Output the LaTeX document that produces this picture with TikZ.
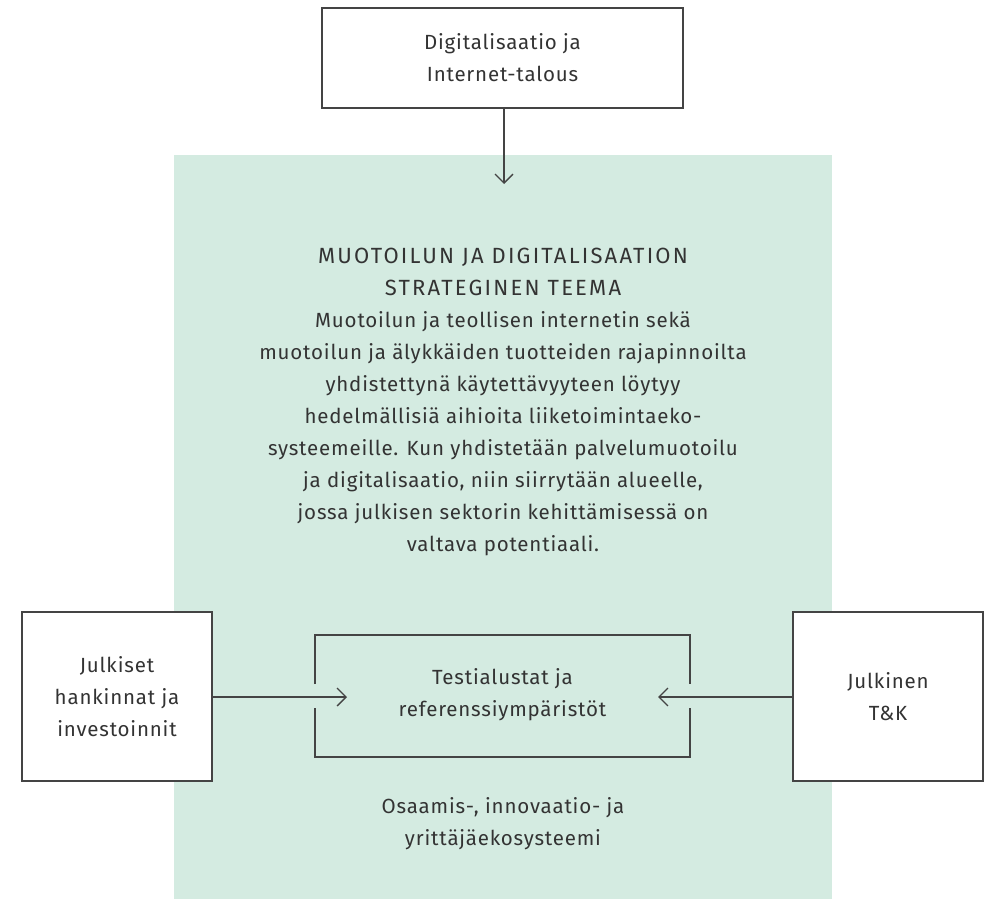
\documentclass[tikz,border=0pt]{standalone}
\usepackage{fontspec}
\setmainfont{Fira Sans}[LetterSpace=4]
\newfontfamily\headfont{Fira Sans}[LetterSpace=10]
\newcommand\hdsty{\headfont\fontsize{22}{32}\selectfont}
\newcommand\bdsty{\rmfamily\fontsize{20.5}{32}\selectfont}
\usetikzlibrary{arrows.meta}
\definecolor{mint}{HTML}{D4EBE1}
\definecolor{ink}{HTML}{333333}
\definecolor{linec}{HTML}{444444}
\begin{document}
\begin{tikzpicture}[x=1pt,y=-1pt,
  every node/.style={text=ink, font=\bdsty, align=center, inner sep=0pt},
  wbox/.style={draw=linec, line width=1.5pt, fill=white},
  conn/.style={draw=linec, line width=1.5pt, -{Straight Barb[length=9pt,width=18pt,line width=1.3pt]}},
  brk/.style={draw=linec, line width=1.5pt}]
\useasboundingbox (0,0) rectangle (986,899);
\fill[mint] (174,155) rectangle (832,899);

\node[wbox, minimum width=361pt, minimum height=100pt] (top) at (502.5,58) {Digitalisaatio ja\\Internet-talous};
\node[wbox, minimum width=190pt, minimum height=169pt] (left) at (117,696.5) {Julkiset\\hankinnat ja\\investoinnit};
\node[wbox, minimum width=190pt, minimum height=169pt] (right) at (888,696.5) {Julkinen\\T\&K};

\node (theme) at (503,402) {\hdsty MUOTOILUN JA DIGITALISAATION\\\hdsty STRATEGINEN TEEMA\\\bdsty Muotoilun ja teollisen internetin sekä\\muotoilun ja älykkäiden tuotteiden rajapinnoilta\\yhdistettynä käytettävyyteen löytyy\\hedelmällisiä aihioita liiketoimintaeko-\\systeemeille. Kun yhdistetään palvelumuotoilu\\ja digitalisaatio, niin siirrytään alueelle,\\jossa julkisen sektorin kehittämisessä on\\valtava potentiaali.};

\node (test) at (502.5,695) {Testialustat ja\\referenssiympäristöt};
\node (eco) at (503,824) {Osaamis-, innovaatio- ja\\yrittäjäekosysteemi};

\draw[brk] (315,684) -- (315,635) -- (690,635) -- (690,684);
\draw[brk] (315,708) -- (315,757) -- (690,757) -- (690,708);

\coordinate (tipTop) at (504,184);
\coordinate (tipL) at (347,697);
\coordinate (tipR) at (658,697);
\draw[conn] (top.south -| tipTop) -- (tipTop);
\draw[conn] (left.east |- tipL) -- (tipL);
\draw[conn] (right.west |- tipR) -- (tipR);
\end{tikzpicture}
\end{document}
